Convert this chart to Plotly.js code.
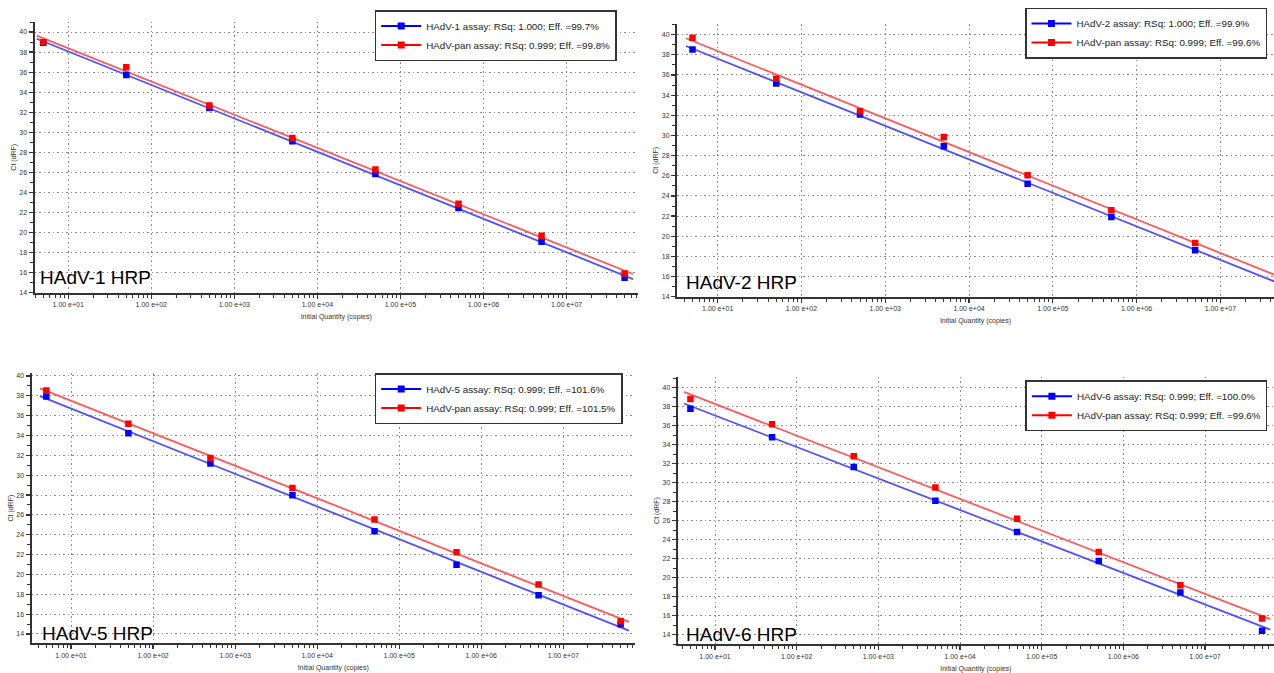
<!DOCTYPE html>
<html>
<head>
<meta charset="utf-8">
<script src="https://cdn.plot.ly/plotly-3.0.1.min.js"></script>
<style>
  html, body { margin: 0; padding: 0; background: #ffffff; }
  #chart { width: 1274px; height: 673px; }
</style>
</head>
<body>
<div id="chart"></div>
<script>
// ---------------- DATA ----------------
const quantities = [5, 50, 500, 5000, 50000, 500000, 5000000, 50000000];

const hadv1Ct   = [38.94, 35.71, 32.43, 29.10, 25.85, 22.46, 19.07, 15.49];
const pan1Ct    = [38.98, 36.48, 32.66, 29.44, 26.28, 22.86, 19.67, 15.91];

const hadv2Ct   = [38.54, 35.16, 32.07, 28.92, 25.21, 21.92, 18.61];
const pan2Ct    = [39.70, 35.62, 32.40, 29.85, 26.04, 22.59, 19.33];

const hadv5Ct   = [37.92, 34.24, 31.19, 27.97, 24.36, 20.98, 17.90, 14.97];
const pan5Ct    = [38.53, 35.18, 31.73, 28.71, 25.53, 22.24, 18.99, 15.28];

const hadv6Ct   = [37.80, 34.79, 31.67, 28.10, 24.81, 21.77, 18.44, 14.42];
const pan6Ct    = [38.81, 36.15, 32.79, 29.50, 26.21, 22.71, 19.22, 15.72];

const typeLegend = [
  'HAdV-1 assay: RSq: 1.000; Eff. =99.7%',
  'HAdV-2 assay: RSq: 1.000; Eff. =99.9%',
  'HAdV-5 assay: RSq: 0.999; Eff. =101.6%',
  'HAdV-6 assay: RSq: 0.999; Eff. =100.0%'
];
const panLegend = [
  'HAdV-pan assay: RSq: 0.999; Eff. =99.8%',
  'HAdV-pan assay: RSq: 0.999; Eff. =99.6%',
  'HAdV-pan assay: RSq: 0.999; Eff. =101.5%',
  'HAdV-pan assay: RSq: 0.999; Eff. =99.6%'
];
const panelLabels = ['HAdV-1 HRP', 'HAdV-2 HRP', 'HAdV-5 HRP', 'HAdV-6 HRP'];

const xTickVals = [1e1, 1e2, 1e3, 1e4, 1e5, 1e6, 1e7];
const xTickText = ['1.00 e+01', '1.00 e+02', '1.00 e+03', '1.00 e+04', '1.00 e+05', '1.00 e+06', '1.00 e+07'];
const xTitle = 'Initial Quantity (copies)';
const yTitle = 'Ct (dRF)';

// ---------------- LAYOUT CONFIG (pixels) ----------------
const W = 1274, H = 673;
const panels = [
  { type: hadv1Ct, pan: pan1Ct, left: 34.5, right: 638, top: 21.7, bottom: 292.7,
    xr: [0.594, 7.86], yr: [14, 41.03], leg: [374.7, 10], lab: [37.7, 277] },
  { type: hadv2Ct, pan: pan2Ct, left: 677, right: 1274, top: 24, bottom: 296.7,
    xr: [0.514, 7.64], yr: [14, 41.06], leg: [1025, 7.5], lab: [684, 282.7] },
  { type: hadv5Ct, pan: pan5Ct, left: 31.5, right: 635, top: 373, bottom: 643.3,
    xr: [0.518, 7.874], yr: [13.06, 40.3], leg: [374.7, 373], lab: [40, 633.3] },
  { type: hadv6Ct, pan: pan6Ct, left: 677.7, right: 1274, top: 376.7, bottom: 644.3,
    xr: [0.543, 7.845], yr: [13.0, 41.16], leg: [1025.4, 380.3], lab: [683.7, 634] }
];
const lineLogSpan = [0.62, 7.8];

const BLUE = '#0000ff', RED = '#ff0000';
const BLUE_LINE = '#5050ff', RED_LINE = '#ff5858';
const FONT = 'Liberation Sans, Arial, sans-serif';

function fit(xs, ys) {
  const lx = xs.map(v => Math.log10(v));
  const n = ys.length;
  let mx = 0, my = 0;
  for (let i = 0; i < n; i++) { mx += lx[i]; my += ys[i]; }
  mx /= n; my /= n;
  let sxy = 0, sxx = 0;
  for (let i = 0; i < n; i++) { sxy += (lx[i] - mx) * (ys[i] - my); sxx += (lx[i] - mx) ** 2; }
  const b = sxy / sxx, a = my - b * mx;
  return {
    x: lineLogSpan.map(l => Math.pow(10, l)),
    y: lineLogSpan.map(l => a + b * l)
  };
}

const minorX = [];
for (let e = 0; e <= 7; e++) for (let m = 2; m <= 9; m++) minorX.push(m * Math.pow(10, e));

const traces = [];
const layout = {
  width: W, height: H,
  margin: { l: 0, r: 0, t: 0, b: 0 },
  paper_bgcolor: '#ffffff', plot_bgcolor: '#ffffff',
  showlegend: true,
  font: { family: FONT, color: '#333333' },
  annotations: []
};

panels.forEach((p, i) => {
  const k = i + 1;
  const xa = 'x' + (k === 1 ? '' : k), ya = 'y' + (k === 1 ? '' : k);
  const xKey = 'xaxis' + (k === 1 ? '' : k), yKey = 'yaxis' + (k === 1 ? '' : k);
  const legKey = 'legend' + (k === 1 ? '' : k);
  const n = p.type.length;
  const qx = quantities.slice(0, n);

  const ft = fit(qx, p.type), fp = fit(qx, p.pan);
  traces.push({ x: ft.x, y: ft.y, xaxis: xa, yaxis: ya, mode: 'lines', showlegend: false,
    line: { color: BLUE_LINE, width: 1.8 }, hoverinfo: 'skip' });
  traces.push({ x: fp.x, y: fp.y, xaxis: xa, yaxis: ya, mode: 'lines', showlegend: false,
    line: { color: RED_LINE, width: 1.8 }, hoverinfo: 'skip' });
  traces.push({ x: qx, y: p.type, xaxis: xa, yaxis: ya, mode: 'markers', showlegend: false,
    marker: { symbol: 'square', size: 6.5, color: BLUE } });
  traces.push({ x: qx, y: p.pan, xaxis: xa, yaxis: ya, mode: 'markers', showlegend: false,
    marker: { symbol: 'square', size: 6.5, color: RED } });
  // legend entries
  traces.push({ x: [null], y: [null], xaxis: xa, yaxis: ya, mode: 'lines+markers', name: typeLegend[i],
    legend: legKey, marker: { symbol: 'square', size: 7, color: BLUE }, line: { color: BLUE, width: 2 } });
  traces.push({ x: [null], y: [null], xaxis: xa, yaxis: ya, mode: 'lines+markers', name: panLegend[i],
    legend: legKey, marker: { symbol: 'square', size: 7, color: RED }, line: { color: RED, width: 2 } });

  layout[xKey] = {
    type: 'log', range: p.xr, domain: [p.left / W, p.right / W], anchor: ya,
    showline: true, linecolor: '#333333', linewidth: 2,
    ticks: 'outside', ticklen: 4, tickwidth: 1.2, tickcolor: '#333333',
    tickmode: 'array', tickvals: xTickVals, ticktext: xTickText,
    tickfont: { family: FONT, size: 7, color: '#333333' },
    showgrid: true, gridcolor: '#8a8a8a', gridwidth: 1, griddash: '1.5px,3px',
    minor: { tickmode: 'array', tickvals: minorX, ticks: 'outside', ticklen: 3, tickwidth: 1, tickcolor: '#333333', showgrid: false },
    zeroline: false, fixedrange: true,
    title: { text: xTitle, font: { family: FONT, size: 7, color: '#333333' }, standoff: 7 }
  };
  layout[yKey] = {
    range: p.yr, domain: [1 - p.bottom / H, 1 - p.top / H], anchor: xa,
    showline: true, linecolor: '#333333', linewidth: 2,
    ticks: 'outside', ticklen: 4, tickwidth: 1.2, tickcolor: '#333333',
    tickmode: 'linear', tick0: 0, dtick: 2,
    tickfont: { family: FONT, size: 7, color: '#333333' },
    showgrid: true, gridcolor: '#8a8a8a', gridwidth: 1, griddash: '1.5px,3px',
    minor: { dtick: 1, tick0: 0, ticks: 'outside', ticklen: 3, tickwidth: 1, tickcolor: '#333333', showgrid: false },
    zeroline: false, fixedrange: true,
    title: { text: yTitle, font: { family: FONT, size: 7, color: '#333333' }, standoff: 2 }
  };
  layout[legKey] = {
    x: p.leg[0] / W, y: 1 - p.leg[1] / H, xanchor: 'left', yanchor: 'top',
    xref: 'paper', yref: 'paper',
    bgcolor: '#ffffff', bordercolor: '#333333', borderwidth: 1.5,
    font: { family: FONT, size: 9.8, color: '#222222' },
    itemwidth: 40, tracegroupgap: 0, traceorder: 'normal'
  };
  layout.annotations.push({
    xref: 'paper', yref: 'paper', x: p.lab[0] / W, y: 1 - p.lab[1] / H,
    xanchor: 'left', yanchor: 'middle', showarrow: false, text: panelLabels[i],
    font: { family: FONT, size: 19, color: '#000000' }
  });
});

Plotly.newPlot('chart', traces, layout, { staticPlot: true, displayModeBar: false });
</script>
</body>
</html>
